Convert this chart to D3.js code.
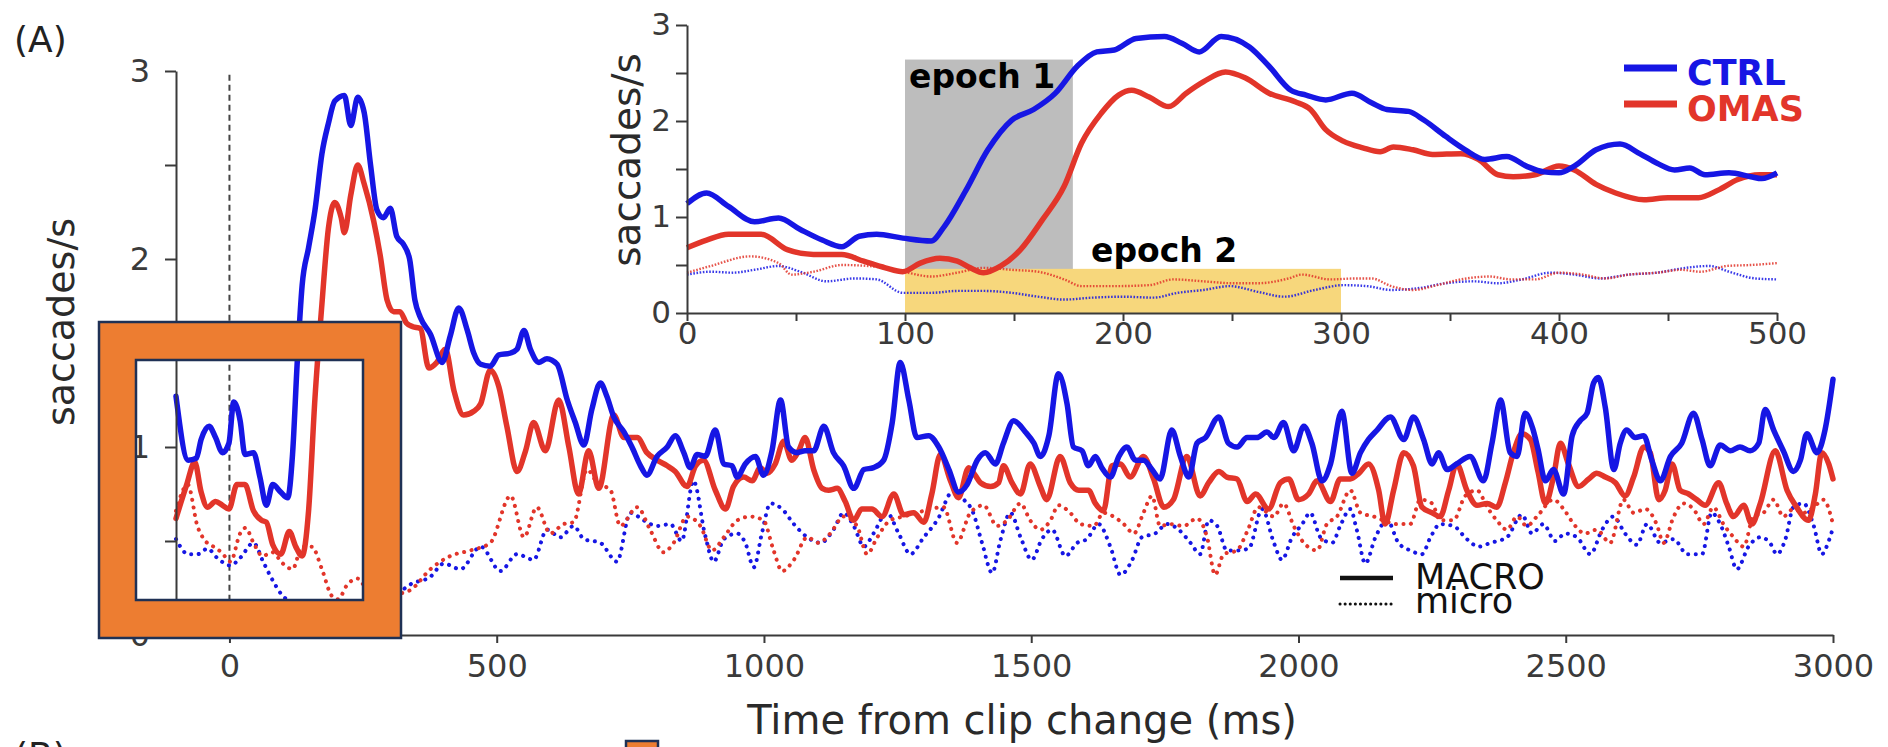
<!DOCTYPE html>
<html>
<head>
<meta charset="utf-8">
<script src="https://cdn.jsdelivr.net/npm/d3@7"></script>
<style>
  html, body { margin: 0; padding: 0; background: #fff; }
  svg { display: block; font-family: "DejaVu Sans", Verdana, sans-serif; }
</style>
</head>
<body>
<svg id="fig" width="1888" height="747"></svg>
<script>
// ---- Saccade rate (saccades/s) vs time from clip change (ms): [ms, rate] pairs ----
const ctrlMacro = [[-100,1.27],[-77,0.93],[-62,0.94],[-53,1.04],[-38,1.11],[-26,1.05],[-13,0.97],[-1,1.02],[8,1.24],[20,1.14],[29,0.96],[45,0.97],[57,0.84],[69,0.69],[81,0.80],[96,0.76],[109,0.73],[118,0.96],[127,1.46],[136,1.86],[148,2.06],[160,2.26],[173,2.56],[185,2.72],[197,2.84],[215,2.87],[227,2.71],[240,2.86],[252,2.78],[264,2.50],[276,2.26],[288,2.22],[301,2.27],[313,2.12],[325,2.08],[337,2.00],[347,1.78],[357,1.69],[376,1.60],[398,1.45],[413,1.59],[429,1.74],[445,1.62],[457,1.50],[470,1.44],[488,1.43],[504,1.49],[526,1.50],[538,1.52],[551,1.62],[563,1.52],[579,1.45],[594,1.47],[613,1.44],[632,1.25],[647,1.13],[663,1.01],[678,1.20],[694,1.34],[706,1.27],[719,1.16],[738,1.08],[753,1.00],[769,0.90],[781,0.85],[800,0.95],[819,1.00],[834,1.06],[850,0.97],[862,0.89],[875,0.96],[890,0.95],[909,1.09],[925,0.91],[940,0.90],[950,0.84],[965,0.91],[984,0.95],[999,0.85],[1015,0.98],[1031,1.25],[1046,1.00],[1062,0.97],[1077,0.98],[1093,0.98],[1112,1.11],[1130,0.97],[1149,0.90],[1168,0.78],[1187,0.88],[1205,0.89],[1224,0.93],[1240,1.13],[1255,1.45],[1271,1.25],[1286,1.05],[1308,1.06],[1327,1.00],[1346,0.88],[1364,0.76],[1380,0.80],[1399,0.93],[1414,0.97],[1433,0.91],[1448,1.02],[1467,1.14],[1489,1.08],[1505,1.02],[1517,0.95],[1533,1.06],[1551,1.39],[1567,1.23],[1579,1.00],[1595,0.98],[1607,0.90],[1620,0.95],[1632,0.89],[1648,0.84],[1664,0.95],[1679,1.00],[1695,0.93],[1710,0.93],[1726,0.88],[1741,0.83],[1763,1.09],[1779,0.95],[1795,0.84],[1810,1.02],[1826,1.05],[1851,1.16],[1869,1.02],[1885,1.00],[1904,1.05],[1922,1.05],[1941,1.08],[1954,1.05],[1972,1.13],[1991,0.98],[2010,1.11],[2025,1.02],[2044,0.82],[2060,0.91],[2081,1.19],[2100,0.86],[2116,0.97],[2131,1.04],[2147,1.09],[2172,1.16],[2197,1.04],[2215,1.16],[2234,1.04],[2250,0.91],[2262,0.97],[2278,0.88],[2296,0.91],[2321,0.95],[2346,0.82],[2362,1.02],[2378,1.25],[2396,0.97],[2409,0.95],[2424,1.18],[2438,1.10],[2448,0.99],[2462,0.82],[2477,0.88],[2496,0.75],[2512,1.06],[2527,1.14],[2540,1.18],[2552,1.34],[2561,1.37],[2574,1.21],[2590,0.88],[2602,1.02],[2614,1.09],[2630,1.05],[2646,1.06],[2661,0.93],[2677,0.82],[2696,0.95],[2717,1.02],[2739,1.18],[2755,1.04],[2770,0.90],[2789,1.01],[2808,0.98],[2826,1.00],[2845,0.98],[2861,1.02],[2873,1.20],[2889,1.09],[2907,0.98],[2926,0.87],[2939,0.93],[2951,1.07],[2970,0.97],[2985,1.09],[3000,1.36]];

const omasMacro = [[-100,0.62],[-80,0.80],[-65,0.92],[-53,0.76],[-41,0.68],[-26,0.71],[-13,0.69],[-1,0.67],[14,0.80],[29,0.80],[45,0.66],[60,0.61],[69,0.60],[81,0.48],[96,0.43],[112,0.55],[124,0.47],[136,0.42],[148,0.66],[160,1.26],[173,1.76],[185,2.16],[197,2.30],[209,2.22],[215,2.14],[227,2.34],[240,2.50],[252,2.40],[270,2.20],[282,2.02],[295,1.78],[307,1.72],[319,1.72],[331,1.66],[343,1.64],[357,1.63],[373,1.42],[388,1.45],[404,1.52],[420,1.30],[438,1.17],[457,1.19],[470,1.23],[488,1.41],[504,1.32],[519,1.11],[538,0.87],[554,0.98],[569,1.13],[591,0.98],[616,1.25],[635,1.00],[653,0.75],[672,0.98],[691,0.78],[719,1.17],[738,1.05],[763,1.05],[781,0.97],[800,0.93],[819,0.90],[834,0.87],[856,0.79],[872,0.90],[887,0.93],[909,0.77],[928,0.67],[943,0.79],[962,0.84],[978,0.82],[993,0.89],[1006,0.86],[1021,0.91],[1037,1.03],[1052,0.93],[1065,0.98],[1077,1.05],[1093,0.88],[1109,0.78],[1121,0.77],[1137,0.78],[1152,0.71],[1168,0.61],[1183,0.67],[1202,0.67],[1221,0.63],[1243,0.75],[1261,0.64],[1280,0.65],[1299,0.60],[1314,0.75],[1330,0.96],[1349,0.82],[1364,0.73],[1383,0.89],[1395,0.85],[1405,0.81],[1424,0.79],[1439,0.81],[1448,0.90],[1464,0.81],[1480,0.75],[1498,0.91],[1517,0.79],[1529,0.72],[1554,0.95],[1573,0.81],[1589,0.77],[1607,0.77],[1620,0.70],[1635,0.66],[1651,0.90],[1667,0.91],[1685,0.84],[1710,0.95],[1729,0.83],[1748,0.68],[1766,0.72],[1791,0.95],[1816,0.74],[1832,0.81],[1851,0.87],[1866,0.84],[1885,0.83],[1904,0.71],[1920,0.75],[1944,0.67],[1966,0.81],[1982,0.83],[2000,0.72],[2019,0.75],[2035,0.82],[2060,0.71],[2078,0.83],[2097,0.83],[2113,0.86],[2131,0.91],[2150,0.77],[2162,0.59],[2178,0.77],[2197,0.97],[2215,0.90],[2231,0.68],[2250,0.65],[2265,0.63],[2281,0.77],[2296,0.91],[2315,0.77],[2334,0.69],[2353,0.70],[2371,0.68],[2387,0.81],[2402,0.97],[2418,1.07],[2434,1.04],[2448,0.87],[2462,0.70],[2477,0.84],[2490,1.02],[2505,0.91],[2524,0.79],[2543,0.83],[2558,0.86],[2574,0.84],[2593,0.81],[2611,0.74],[2627,0.84],[2646,1.00],[2658,0.97],[2674,0.72],[2686,0.77],[2699,0.91],[2714,0.77],[2730,0.75],[2745,0.72],[2761,0.69],[2786,0.81],[2801,0.70],[2814,0.63],[2833,0.69],[2848,0.59],[2864,0.70],[2892,0.98],[2914,0.77],[2932,0.68],[2954,0.61],[2967,0.75],[2979,0.97],[2992,0.91],[3000,0.83]];

const ctrlMicro = [[-100,0.51],[-77,0.43],[-59,0.43],[-41,0.46],[-23,0.41],[2,0.37],[20,0.41],[45,0.49],[63,0.39],[81,0.29],[99,0.21],[124,0.17],[154,0.15],[185,0.12],[220,0.10],[260,0.14],[295,0.19],[319,0.23],[339,0.27],[376,0.31],[401,0.38],[432,0.35],[470,0.47],[507,0.34],[538,0.43],[569,0.40],[594,0.56],[619,0.52],[644,0.58],[663,0.51],[694,0.49],[725,0.39],[750,0.65],[775,0.61],[800,0.58],[825,0.59],[846,0.50],[868,0.82],[890,0.53],[906,0.39],[925,0.51],[950,0.54],[965,0.49],[981,0.36],[996,0.54],[1012,0.70],[1034,0.67],[1056,0.59],[1081,0.52],[1106,0.49],[1130,0.56],[1149,0.65],[1168,0.58],[1187,0.47],[1205,0.54],[1230,0.65],[1252,0.54],[1274,0.43],[1299,0.52],[1324,0.61],[1355,0.77],[1374,0.72],[1390,0.66],[1408,0.49],[1427,0.33],[1442,0.50],[1461,0.65],[1480,0.52],[1501,0.40],[1520,0.51],[1539,0.56],[1564,0.42],[1586,0.49],[1604,0.51],[1626,0.59],[1648,0.47],[1667,0.32],[1689,0.40],[1707,0.52],[1732,0.54],[1754,0.59],[1776,0.56],[1798,0.49],[1816,0.43],[1832,0.61],[1848,0.58],[1866,0.45],[1885,0.45],[1907,0.46],[1932,0.67],[1954,0.49],[1969,0.40],[1988,0.52],[2007,0.59],[2022,0.65],[2041,0.52],[2063,0.49],[2078,0.58],[2097,0.67],[2109,0.56],[2125,0.38],[2144,0.52],[2166,0.61],[2187,0.49],[2209,0.45],[2231,0.43],[2247,0.52],[2265,0.59],[2290,0.58],[2315,0.51],[2337,0.47],[2359,0.49],[2390,0.52],[2418,0.64],[2437,0.54],[2458,0.59],[2480,0.50],[2499,0.54],[2521,0.52],[2546,0.43],[2568,0.56],[2589,0.63],[2611,0.54],[2633,0.48],[2652,0.59],[2677,0.49],[2702,0.51],[2727,0.43],[2755,0.43],[2773,0.65],[2789,0.59],[2805,0.47],[2820,0.35],[2842,0.47],[2864,0.52],[2882,0.49],[2895,0.43],[2911,0.51],[2926,0.68],[2945,0.70],[2964,0.58],[2979,0.43],[2992,0.50],[3000,0.57]];

const omasMicro = [[-100,0.66],[-78,0.80],[-60,0.58],[-45,0.50],[-30,0.47],[-15,0.44],[2,0.39],[20,0.54],[30,0.57],[45,0.49],[62,0.42],[80,0.44],[100,0.38],[118,0.35],[136,0.47],[154,0.47],[173,0.35],[191,0.21],[203,0.19],[221,0.27],[240,0.30],[262,0.22],[290,0.20],[319,0.22],[339,0.24],[376,0.35],[413,0.42],[451,0.45],[488,0.49],[526,0.74],[551,0.52],[575,0.68],[600,0.54],[625,0.59],[644,0.60],[669,0.88],[688,0.81],[713,0.77],[731,0.58],[763,0.68],[787,0.56],[812,0.44],[831,0.49],[856,0.63],[881,0.58],[903,0.45],[925,0.52],[950,0.61],[975,0.63],[999,0.61],[1018,0.45],[1034,0.34],[1056,0.40],[1081,0.52],[1102,0.49],[1124,0.54],[1149,0.63],[1174,0.58],[1193,0.43],[1212,0.52],[1236,0.61],[1261,0.63],[1286,0.65],[1311,0.67],[1336,0.68],[1361,0.49],[1386,0.65],[1411,0.69],[1436,0.58],[1455,0.61],[1480,0.70],[1498,0.61],[1517,0.56],[1536,0.61],[1551,0.69],[1573,0.65],[1592,0.59],[1617,0.58],[1635,0.65],[1654,0.63],[1673,0.59],[1692,0.54],[1710,0.65],[1726,0.74],[1741,0.58],[1760,0.59],[1785,0.58],[1810,0.62],[1829,0.52],[1844,0.32],[1860,0.43],[1885,0.45],[1904,0.55],[1925,0.68],[1954,0.63],[1972,0.70],[1991,0.58],[2010,0.49],[2035,0.45],[2053,0.59],[2072,0.63],[2097,0.77],[2116,0.65],[2141,0.63],[2159,0.61],[2184,0.59],[2209,0.59],[2228,0.72],[2250,0.70],[2265,0.61],[2290,0.61],[2312,0.74],[2334,0.77],[2353,0.68],[2371,0.61],[2390,0.56],[2409,0.63],[2427,0.58],[2446,0.63],[2477,0.72],[2496,0.67],[2515,0.59],[2536,0.54],[2558,0.56],[2583,0.49],[2608,0.72],[2627,0.65],[2649,0.67],[2670,0.59],[2683,0.49],[2702,0.63],[2720,0.70],[2739,0.67],[2758,0.59],[2776,0.68],[2795,0.59],[2814,0.52],[2833,0.47],[2851,0.63],[2870,0.65],[2889,0.72],[2907,0.63],[2926,0.67],[2945,0.65],[2964,0.68],[2982,0.72],[3000,0.59]];

// ---- Inset: first 500 ms at finer resolution ----
const insetCtrlMacro = [[0,1.14],[9,1.25],[19,1.11],[31,0.95],[42,0.99],[52,0.87],[62,0.76],[71,0.69],[79,0.80],[87,0.82],[99,0.78],[112,0.75],[118,0.90],[128,1.28],[138,1.70],[149,2.01],[159,2.12],[169,2.29],[179,2.57],[188,2.72],[196,2.74],[206,2.86],[219,2.88],[227,2.81],[235,2.72],[245,2.88],[258,2.77],[267,2.57],[277,2.32],[284,2.27],[293,2.22],[305,2.29],[314,2.19],[321,2.12],[331,2.10],[338,2.01],[348,1.84],[357,1.70],[366,1.60],[376,1.63],[385,1.53],[393,1.47],[400,1.46],[407,1.53],[417,1.70],[428,1.76],[437,1.66],[445,1.56],[453,1.49],[460,1.51],[467,1.44],[478,1.46],[488,1.42],[493,1.40],[500,1.46]];
const insetOmasMacro = [[0,0.68],[9,0.76],[19,0.82],[34,0.82],[46,0.66],[58,0.61],[71,0.61],[81,0.54],[91,0.47],[99,0.43],[107,0.52],[116,0.57],[124,0.54],[130,0.47],[136,0.42],[144,0.49],[153,0.66],[163,0.97],[173,1.32],[181,1.77],[190,2.08],[198,2.27],[204,2.32],[212,2.25],[221,2.15],[229,2.29],[237,2.41],[247,2.51],[256,2.45],[267,2.29],[279,2.20],[286,2.12],[293,1.91],[301,1.79],[310,1.72],[318,1.68],[324,1.73],[333,1.70],[342,1.65],[355,1.66],[363,1.60],[372,1.44],[379,1.42],[389,1.44],[400,1.53],[407,1.49],[417,1.34],[426,1.25],[439,1.18],[450,1.20],[464,1.20],[473,1.28],[482,1.39],[492,1.44],[500,1.44]];
const insetCtrlMicro = [[0,0.40],[11,0.43],[21,0.42],[31,0.45],[42,0.49],[52,0.43],[64,0.33],[77,0.36],[87,0.35],[99,0.21],[112,0.21],[124,0.23],[136,0.23],[149,0.21],[161,0.17],[173,0.14],[186,0.16],[200,0.17],[214,0.16],[225,0.21],[237,0.24],[249,0.28],[262,0.22],[274,0.17],[288,0.24],[301,0.29],[312,0.28],[323,0.24],[336,0.26],[348,0.31],[361,0.33],[372,0.31],[383,0.35],[396,0.42],[407,0.40],[419,0.36],[432,0.40],[445,0.42],[458,0.47],[469,0.49],[478,0.43],[490,0.36],[500,0.35]];
const insetOmasMicro = [[0,0.42],[11,0.49],[29,0.59],[42,0.52],[48,0.40],[58,0.43],[71,0.50],[83,0.49],[99,0.43],[112,0.38],[124,0.42],[136,0.47],[149,0.45],[161,0.43],[173,0.35],[181,0.28],[196,0.28],[212,0.29],[223,0.35],[237,0.33],[250,0.31],[262,0.31],[276,0.36],[282,0.40],[295,0.35],[307,0.36],[314,0.36],[323,0.28],[333,0.24],[344,0.29],[355,0.35],[368,0.38],[378,0.35],[389,0.35],[400,0.42],[411,0.40],[421,0.36],[432,0.40],[445,0.42],[456,0.45],[465,0.43],[477,0.49],[488,0.50],[500,0.52]];

// Analysis windows shown in the inset (ms range, rate extent)
const epochNames = ["epoch 1", "epoch 2"];
const epochStart = [100, 100];
const epochEnd = [177, 300];
const epochTop = [2.64, 0.46];

const mainXTicks = [0, 500, 1000, 1500, 2000, 2500, 3000];
const mainYTicks = [0, 0.5, 1, 1.5, 2, 2.5, 3];
const insetXTicks = [0, 50, 100, 150, 200, 250, 300, 350, 400, 450, 500];
const insetYTicks = [0, 0.5, 1, 1.5, 2, 2.5, 3];
const groupNames = ["CTRL", "OMAS"];
const typeNames = ["MACRO", "micro"];

const BLUE = "#1616e4", RED = "#e2352a", AXIS = "#3a3a3a", TICKTXT = "#3a3a3a";
const ORANGE = "#ed7d31", NAVY = "#1f3155";

const svg = d3.select("#fig");
svg.append("rect").attr("width", 1888).attr("height", 747).attr("fill", "#fff");

const intLabel = d => Number.isInteger(d) ? d : "";

// ================= Main panel =================
const x = d3.scaleLinear().domain([-100, 3000]).range([176, 1833]);
const y = d3.scaleLinear().domain([0, 3]).range([635, 71]);
const line = d3.line().x(d => x(d[0])).y(d => y(d[1])).curve(d3.curveMonotoneX);

const main = svg.append("g");

// stimulus onset marker
main.append("line")
  .attr("x1", x(0)).attr("x2", x(0)).attr("y1", y(2.98)).attr("y2", y(0))
  .attr("stroke", "#444").attr("stroke-width", 2).attr("stroke-dasharray", "6 4");

const mainSeries = [
  { d: ctrlMicro, c: BLUE, dotted: true },
  { d: omasMicro, c: RED, dotted: true },
  { d: omasMacro, c: RED, dotted: false },
  { d: ctrlMacro, c: BLUE, dotted: false }
];
mainSeries.forEach(s => {
  main.append("path").datum(s.d).attr("d", line)
    .attr("fill", "none").attr("stroke", s.c)
    .attr("stroke-width", s.dotted ? 4 : 5.5)
    .attr("stroke-linecap", "round").attr("stroke-linejoin", "round")
    .attr("stroke-dasharray", s.dotted ? "0.1 7.5" : null);
});

const yAxisMain = main.append("g").attr("transform", `translate(${x(-100)},0)`)
  .call(d3.axisLeft(y).tickValues(mainYTicks).tickFormat(intLabel).tickSize(11).tickSizeOuter(0).tickPadding(15));
const xAxisMain = main.append("g").attr("transform", `translate(0,${y(0)})`)
  .call(d3.axisBottom(x).tickValues(mainXTicks).tickFormat(d3.format("d")).tickSize(8).tickSizeOuter(0).tickPadding(11));
[yAxisMain, xAxisMain].forEach(g => {
  g.selectAll("path, line").attr("stroke", AXIS).attr("stroke-width", 2);
  g.selectAll("text").attr("font-size", 32).attr("fill", TICKTXT).attr("font-family", "DejaVu Sans");
});

main.append("text").attr("transform", "translate(74,322) rotate(-90)")
  .attr("text-anchor", "middle").attr("font-size", 38).attr("fill", "#2a2a2a")
  .text("saccades/s");
main.append("text").attr("x", 1022).attr("y", 734)
  .attr("text-anchor", "middle").attr("font-size", 40).attr("fill", "#2a2a2a")
  .text("Time from clip change (ms)");

// MACRO / micro line-style key
const keyG = main.append("g");
typeNames.forEach((t, i) => {
  const ly = 578 + i * 26;
  keyG.append("line").attr("x1", 1340).attr("x2", 1393).attr("y1", ly).attr("y2", ly)
    .attr("stroke", "#111").attr("stroke-width", i ? 3 : 4.5)
    .attr("stroke-dasharray", i ? "0.1 5" : null).attr("stroke-linecap", i ? "round" : "butt");
  keyG.append("text").attr("x", 1415).attr("y", 589 + i * 24)
    .attr("font-size", 35).attr("fill", "#111").text(t);
});

// ================= Inset panel =================
const xi = d3.scaleLinear().domain([0, 500]).range([687, 1777]);
const yi = d3.scaleLinear().domain([0, 3]).range([313, 25]);
const lineI = d3.line().x(d => xi(d[0])).y(d => yi(d[1])).curve(d3.curveMonotoneX);
const inset = svg.append("g");

const epochFill = ["#bdbdbd", "#f7d77c"];
epochNames.forEach((n, i) => {
  inset.append("rect")
    .attr("x", xi(epochStart[i])).attr("width", xi(epochEnd[i]) - xi(epochStart[i]))
    .attr("y", yi(epochTop[i])).attr("height", yi(0) - yi(epochTop[i]))
    .attr("fill", epochFill[i]);
});
inset.append("text").attr("x", xi(epochStart[0]) + 4).attr("y", 88)
  .attr("font-size", 33).attr("font-weight", "bold").attr("fill", "#000").text(epochNames[0]);
inset.append("text").attr("x", 1091).attr("y", 262)
  .attr("font-size", 33).attr("font-weight", "bold").attr("fill", "#000").text(epochNames[1]);

const insetSeries = [
  { d: insetCtrlMicro, c: BLUE, dotted: true },
  { d: insetOmasMicro, c: RED, dotted: true },
  { d: insetOmasMacro, c: RED, dotted: false },
  { d: insetCtrlMacro, c: BLUE, dotted: false }
];
insetSeries.forEach(s => {
  inset.append("path").datum(s.d).attr("d", lineI)
    .attr("fill", "none").attr("stroke", s.c)
    .attr("stroke-width", s.dotted ? 2.4 : 5.5)
    .attr("stroke-linejoin", "round")
    .attr("stroke-dasharray", s.dotted ? "1.6 1.6" : null)
    .attr("opacity", s.dotted ? 0.85 : 1);
});

const yAxisIn = inset.append("g").attr("transform", `translate(${xi(0)},0)`)
  .call(d3.axisLeft(yi).tickValues(insetYTicks).tickFormat(intLabel).tickSize(11).tickSizeOuter(0).tickPadding(5));
const xAxisIn = inset.append("g").attr("transform", `translate(0,${yi(0)})`)
  .call(d3.axisBottom(xi).tickValues(insetXTicks).tickFormat(d => d % 100 === 0 ? d : "").tickSize(8).tickSizeOuter(0).tickPadding(1));
[yAxisIn, xAxisIn].forEach(g => {
  g.selectAll("path, line").attr("stroke", AXIS).attr("stroke-width", 2);
  g.selectAll("text").attr("font-size", 31).attr("fill", TICKTXT).attr("font-family", "DejaVu Sans");
});
inset.append("text").attr("transform", "translate(640,160) rotate(-90)")
  .attr("text-anchor", "middle").attr("font-size", 39).attr("fill", "#2a2a2a")
  .text("saccades/s");

// group colour key
[BLUE, RED].forEach((c, i) => {
  const ly = 68 + i * 36;
  inset.append("line").attr("x1", 1624).attr("x2", 1677).attr("y1", ly).attr("y2", ly)
    .attr("stroke", c).attr("stroke-width", 7);
  inset.append("text").attr("x", 1687).attr("y", ly + 17)
    .attr("font-size", 35).attr("font-weight", "bold").attr("fill", c).text(groupNames[i]);
});

// ================= Panel letters and highlight frame =================
svg.append("text").attr("x", 14).attr("y", 52).attr("font-size", 36).attr("fill", "#222").text("(A)");
svg.append("text").attr("x", 14).attr("y", 768).attr("font-size", 36).attr("fill", "#222").text("(B)");

svg.append("path")
  .attr("d", "M99,322H401V638H99Z M136,360V600H363V360Z")
  .attr("fill", ORANGE).attr("fill-rule", "evenodd")
  .attr("stroke", NAVY).attr("stroke-width", 2.5);
svg.append("rect").attr("x", 626).attr("y", 741).attr("width", 32).attr("height", 32)
  .attr("fill", ORANGE).attr("stroke", NAVY).attr("stroke-width", 2.5);
</script>
</body>
</html>
